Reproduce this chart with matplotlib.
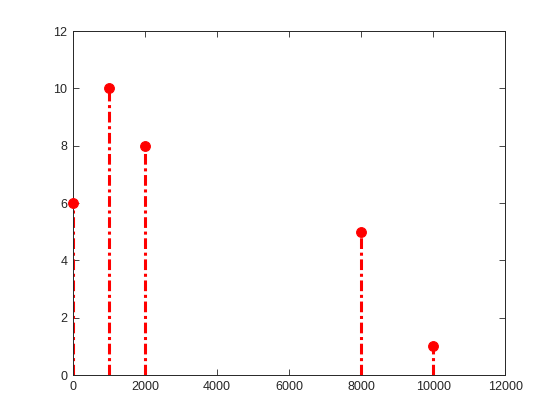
import matplotlib
matplotlib.use("Agg")
import matplotlib.pyplot as plt

x_vals = [0, 1000, 2000, 8000, 10000]
y_vals = [6, 10, 8, 5, 1]
x_ticks = [0, 2000, 4000, 6000, 8000, 10000, 12000]
y_ticks = [0, 2, 4, 6, 8, 10, 12]

plt.rcParams['font.family'] = ['Liberation Sans', 'DejaVu Sans']
fig = plt.figure(figsize=(5.6, 4.2), dpi=100)
ax = fig.add_axes([0.130, 0.107, 0.772, 0.819])

red = '#ff0000'
for xv, yv in zip(x_vals, y_vals):
    ax.plot([xv, xv], [0, yv], color=red, lw=2.2, linestyle=(0, (3.5, 1.2, 1, 1.2)), zorder=2)
ax.plot(x_vals, y_vals, 'o', color=red, markersize=7, markeredgewidth=0.8, zorder=3, clip_on=False)

ax.set_xlim(0, 12000)
ax.set_ylim(0, 12)
ax.set_xticks(x_ticks)
ax.set_yticks(y_ticks)
ax.tick_params(direction='in', length=4, width=0.6, labelsize=9, colors='#262626', top=True, right=True, pad=4)
for s in ax.spines.values():
    s.set_linewidth(0.7)
    s.set_color('#262626')

fig.savefig('out.png', dpi=100)
